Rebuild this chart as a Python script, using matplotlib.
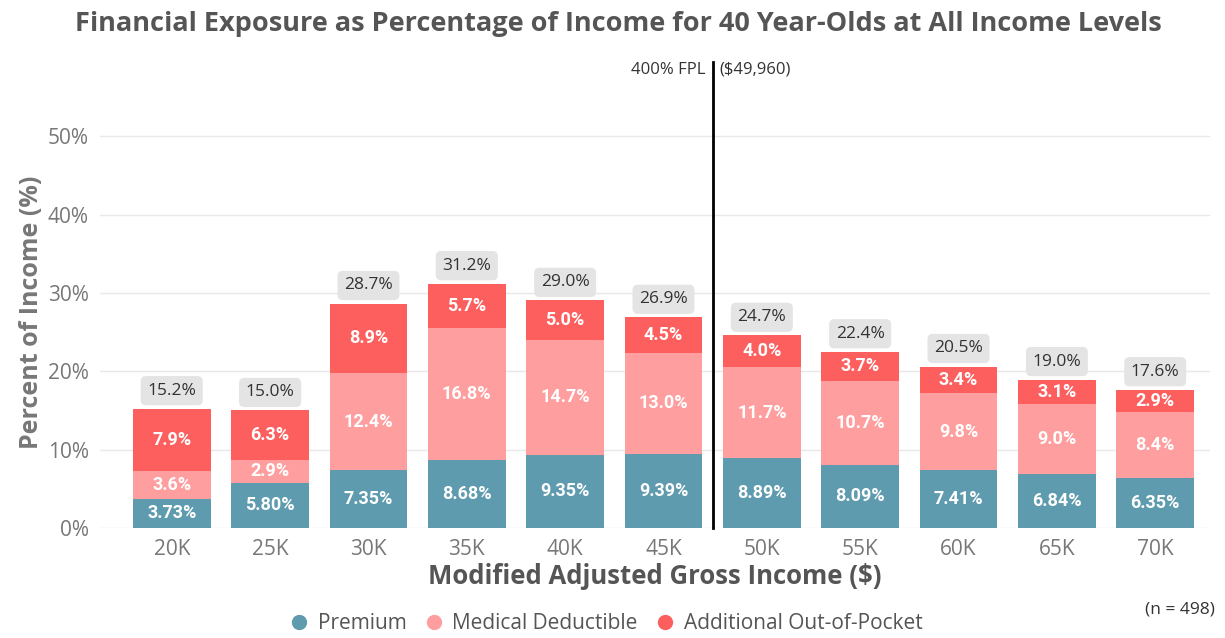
import numpy as np
from matplotlib import pyplot as plt
from matplotlib.lines import Line2D

incomes = ["20K", "25K", "30K", "35K", "40K", "45K", "50K", "55K", "60K", "65K", "70K"]
premium = [3.73, 5.80, 7.35, 8.68, 9.35, 9.39, 8.89, 8.09, 7.41, 6.84, 6.35]
deductible = [3.6, 2.9, 12.4, 16.8, 14.7, 13.0, 11.7, 10.7, 9.8, 9.0, 8.4]
out_of_pocket = [7.9, 6.3, 8.9, 5.7, 5.0, 4.5, 4.0, 3.7, 3.4, 3.1, 2.9]
totals = [15.2, 15.0, 28.7, 31.2, 29.0, 26.9, 24.7, 22.4, 20.5, 19.0, 17.6]
series_names = ["Premium", "Medical Deductible", "Additional Out-of-Pocket"]

c_prem = "#5f9bae"
c_ded = "#ff9e9e"
c_oop = "#fd5f5f"

plt.rcParams['font.family'] = ['Open Sans', 'DejaVu Sans']

fig = plt.figure(figsize=(12.25, 6.38), dpi=100)
ax = fig.add_axes([0.0816, 0.1724, 0.9064, 0.6755])

x = np.arange(len(incomes))
w = 0.79
prem = np.array(premium)
ded = np.array(deductible)
oop = np.array(out_of_pocket)

ax.bar(x, prem, w, color=c_prem, zorder=2)
ax.bar(x, ded, w, bottom=prem, color=c_ded, zorder=2)
ax.bar(x, oop, w, bottom=prem + ded, color=c_oop, zorder=2)

lab_kw = dict(ha="center", va="center", color="white", fontsize=13,
              fontweight="bold", family=["Roboto", "DejaVu Sans"], zorder=3)
for i in range(len(x)):
    ax.text(x[i], prem[i] / 2, "%.2f%%" % prem[i], **lab_kw)
    ax.text(x[i], prem[i] + ded[i] / 2, "%.1f%%" % ded[i], **lab_kw)
    ax.text(x[i], prem[i] + ded[i] + oop[i] / 2, "%.1f%%" % oop[i], **lab_kw)
    top = prem[i] + ded[i] + oop[i]
    ax.text(x[i], top + 2.3, "%.1f%%" % totals[i], ha="center", va="center",
            fontsize=12.5, color="#333333", zorder=3,
            bbox=dict(boxstyle="round,pad=0.38,rounding_size=0.3", fc="#e4e4e4", ec="none"))

# FPL marker line
ax.plot([5.5, 5.5], [0, 59.5], color="black", lw=2, zorder=4, clip_on=False)
ax.text(5.43, 58.5, "400% FPL", ha="right", va="center", fontsize=12, color="#333333")
ax.text(5.57, 58.5, "($49,960)", ha="left", va="center", fontsize=12, color="#333333")

ax.set_xlim(-0.73, 10.56)
ax.set_ylim(0, 55)
ax.set_yticks([0, 10, 20, 30, 40, 50])
ax.set_yticklabels(["0%", "10%", "20%", "30%", "40%", "50%"])
ax.set_xticks(x)
ax.set_xticklabels(incomes)
ax.tick_params(axis="both", length=0, labelsize=15, colors="#777777", pad=8)
ax.grid(axis="y", color="#e8e8e8", lw=1, zorder=0)
for s in ax.spines.values():
    s.set_visible(False)

ax.set_ylabel("Percent of Income (%)", fontsize=18, fontweight="bold", color="#777777", labelpad=3)
ax.set_xlabel("Modified Adjusted Gross Income ($)", fontsize=18.5, fontweight="bold", color="#555555", labelpad=2)

fig.text(0.505, 0.963, "Financial Exposure as Percentage of Income for 40 Year-Olds at All Income Levels",
         ha="center", va="center", fontsize=19.5, fontweight="bold", color="#555555")

handles = [Line2D([], [], marker="o", ls="none", color=c, markersize=10)
           for c in (c_prem, c_ded, c_oop)]
fig.legend(handles, series_names, loc="center", bbox_to_anchor=(0.49, 0.022), ncol=3,
           frameon=False, fontsize=15, labelcolor="#555555", handletextpad=-0.1,
           columnspacing=0.3, borderaxespad=0)
fig.text(0.992, 0.044, "(n = 498)", ha="right", va="center", fontsize=12.5, color="#333333")

fig.savefig("out.png", dpi=100)
